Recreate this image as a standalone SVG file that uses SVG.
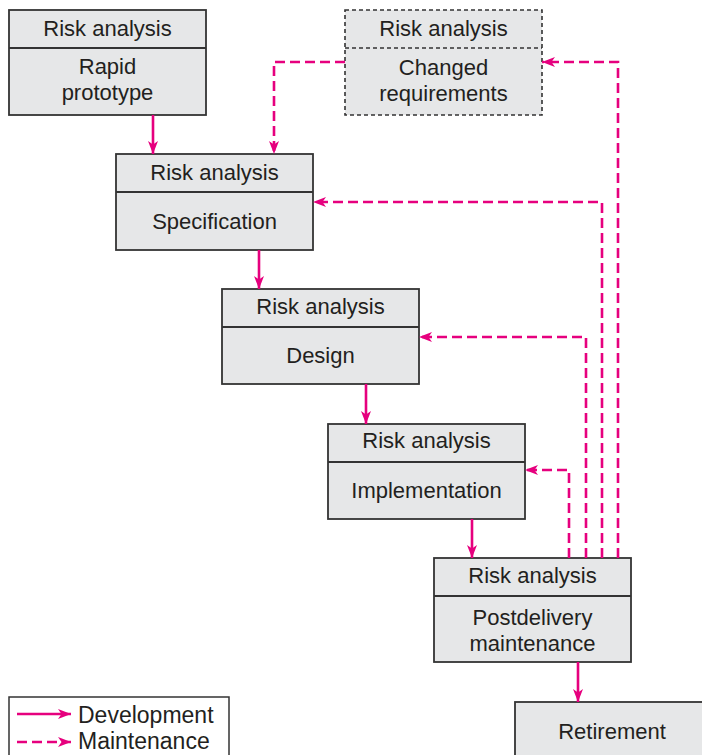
<svg xmlns="http://www.w3.org/2000/svg" width="702" height="755" viewBox="0 0 702 755">
<style>
.box{fill:#e6e7e8;stroke:#333;stroke-width:1.8}
.dbox{fill:#e6e7e8;stroke:#333;stroke-width:1.6;stroke-dasharray:4 3}
.div{stroke:#333;stroke-width:1.8;fill:none}
.ddiv{stroke:#333;stroke-width:1.6;stroke-dasharray:4 3;fill:none}
text{font-family:"Liberation Sans","Open Sans",sans-serif;font-size:22px;fill:#231f20;text-anchor:middle}
.dev{stroke:#e6007e;stroke-width:2.6;fill:none;marker-end:url(#ah)}
.mnt{stroke:#e6007e;stroke-width:2.6;fill:none;stroke-dasharray:10 5;marker-end:url(#ah)}
.leg{text-anchor:start;font-size:23px}
</style>
<defs>
<marker id="ah" viewBox="0 0 13 10" refX="13" refY="5" markerWidth="13" markerHeight="10" markerUnits="userSpaceOnUse" orient="auto">
<path d="M0,0 L13,5 L0,10 L3.5,5 Z" fill="#e6007e"/>
</marker>
</defs>
<rect width="702" height="755" fill="#fff"/>
<g id="rapid-prototype">
<rect class="box" x="9" y="10" width="197" height="105"/>
<line class="div" x1="9" y1="48" x2="206" y2="48"/>
<text x="107.5" y="36">Risk analysis</text>
<text x="107.5" y="74">Rapid</text>
<text x="107.5" y="100">prototype</text>
</g>
<g id="changed-requirements">
<rect class="dbox" x="345" y="10" width="197" height="105"/>
<line class="ddiv" x1="345" y1="48" x2="542" y2="48"/>
<text x="443.5" y="36">Risk analysis</text>
<text x="443.5" y="75">Changed</text>
<text x="443.5" y="101">requirements</text>
</g>
<g id="specification">
<rect class="box" x="116" y="154" width="197" height="96"/>
<line class="div" x1="116" y1="192" x2="313" y2="192"/>
<text x="214.5" y="180">Risk analysis</text>
<text x="214.5" y="229">Specification</text>
</g>
<g id="design">
<rect class="box" x="222" y="289" width="197" height="95"/>
<line class="div" x1="222" y1="327" x2="419" y2="327"/>
<text x="320.5" y="314">Risk analysis</text>
<text x="320.5" y="363">Design</text>
</g>
<g id="implementation">
<rect class="box" x="328" y="424" width="197" height="95"/>
<line class="div" x1="328" y1="462" x2="525" y2="462"/>
<text x="426.5" y="448">Risk analysis</text>
<text x="426.5" y="498">Implementation</text>
</g>
<g id="postdelivery-maintenance">
<rect class="box" x="434" y="558" width="197" height="104"/>
<line class="div" x1="434" y1="596" x2="631" y2="596"/>
<text x="532.5" y="583">Risk analysis</text>
<text x="532.5" y="625">Postdelivery</text>
<text x="532.5" y="651">maintenance</text>
</g>
<g id="retirement">
<rect class="box" x="515" y="702" width="197" height="70"/>
<text x="612" y="739">Retirement</text>
</g>
<g id="connectors">
<path class="dev" d="M153,115 V154"/>
<path class="dev" d="M259,250 V289"/>
<path class="dev" d="M366,384 V424"/>
<path class="dev" d="M472,519 V558"/>
<path class="dev" d="M578,662 V702"/>
<path class="mnt" d="M345,62 H274 V154"/>
<path class="mnt" d="M569,558 V470 H525"/>
<path class="mnt" d="M586,558 V337 H419"/>
<path class="mnt" d="M602,558 V202 H313"/>
<path class="mnt" d="M618,558 V62 H542"/>
</g>
<g id="legend">
<rect x="9" y="697" width="220" height="70" fill="#fff" stroke="#333" stroke-width="1.5"/>
<path class="dev" d="M17,714 H71"/>
<path class="mnt" d="M17,742 H71"/>
<text class="leg" x="78" y="723">Development</text>
<text class="leg" x="78" y="749">Maintenance</text>
</g>
</svg>
